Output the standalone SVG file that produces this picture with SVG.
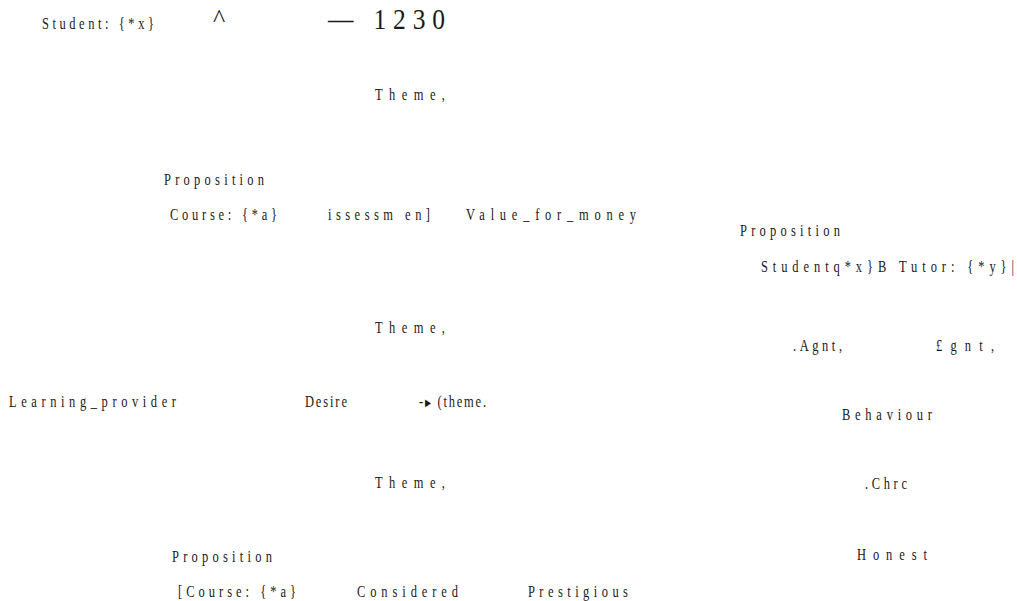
<svg xmlns="http://www.w3.org/2000/svg" width="1017" height="601" viewBox="0 0 1017 601">
<style>
  text { font-family: "Liberation Serif", "DejaVu Serif", serif; fill: #1a1a1a; }
  .t { font-size: 16px; transform: scaleX(0.78); }
  .big { font-size: 30px; transform: scaleX(0.85); }
  .car { font-size: 26px; }
  .tri { font-size: 10px; }
</style>
<rect x="0" y="0" width="1017" height="601" fill="#ffffff"/>
<g id="connectors"></g>
<g id="n-student-top"><text class="t" x="53.8" y="29" textLength="143.6" lengthAdjust="spacing">Student: {*x}</text></g>
<g id="n-caret"><text class="car" x="213" y="27">^</text></g>
<g id="n-1230"><text class="big" x="385.9" y="29" textLength="137.6" lengthAdjust="spacing">— 1230</text></g>
<g id="n-theme1"><text class="t" x="480.8" y="100" textLength="89.7" lengthAdjust="spacing">Theme,</text></g>
<g id="n-prop1"><text class="t" x="210.3" y="185" textLength="128.2" lengthAdjust="spacing">Proposition</text></g>
<g id="n-course1"><text class="t" x="217.9" y="220" textLength="137.2" lengthAdjust="spacing">Course: {*a}</text></g>
<g id="n-assess"><text class="t" x="420.5" y="220" textLength="130.8" lengthAdjust="spacing">issessm en]</text></g>
<g id="n-value"><text class="t" x="597.4" y="220" textLength="217.9" lengthAdjust="spacing">Value_for_money</text></g>
<g id="n-prop2"><text class="t" x="948.7" y="236" textLength="128.2" lengthAdjust="spacing">Proposition</text></g>
<g id="n-student-tutor"><text class="t" x="975.6" y="272" textLength="324.4" lengthAdjust="spacing">Studentq*x}B  Tutor: {*y}|</text></g>
<g id="n-theme2"><text class="t" x="480.8" y="333" textLength="89.7" lengthAdjust="spacing">Theme,</text></g>
<g id="n-agnt1"><text class="t" x="1016.7" y="351" textLength="62.8" lengthAdjust="spacing">.Agnt,</text></g>
<g id="n-agnt2"><text class="t" x="1200" y="351" textLength="74.4" lengthAdjust="spacing">£gnt,</text></g>
<g id="n-learning"><text class="t" x="11.5" y="407" textLength="214.1" lengthAdjust="spacing">Learning_provider</text></g>
<g id="n-desire"><text class="t" x="391" y="407" textLength="53.8" lengthAdjust="spacing">Desire</text></g>
<g id="n-theme-arrow"><text class="t" x="537.2" y="407" textLength="85.9" lengthAdjust="spacing">-<tspan class="tri" dy="-1">▶</tspan><tspan dy="1"> (theme.</tspan></text></g>
<g id="n-behaviour"><text class="t" x="1079.5" y="420" textLength="115.4" lengthAdjust="spacing">Behaviour</text></g>
<g id="n-theme3"><text class="t" x="480.8" y="488" textLength="89.7" lengthAdjust="spacing">Theme,</text></g>
<g id="n-chrc"><text class="t" x="1109" y="489" textLength="53.8" lengthAdjust="spacing">.Chrc</text></g>
<g id="n-prop3"><text class="t" x="220.5" y="562" textLength="128.2" lengthAdjust="spacing">Proposition</text></g>
<g id="n-honest"><text class="t" x="1098.7" y="560" textLength="89.7" lengthAdjust="spacing">Honest</text></g>
<g id="n-course2"><text class="t" x="228.2" y="597" textLength="151.3" lengthAdjust="spacing">[Course: {*a}</text></g>
<g id="n-considered"><text class="t" x="457.7" y="597" textLength="129.5" lengthAdjust="spacing">Considered</text></g>
<g id="n-prestigious"><text class="t" x="676.9" y="597" textLength="128.2" lengthAdjust="spacing">Prestigious</text></g>
</svg>
